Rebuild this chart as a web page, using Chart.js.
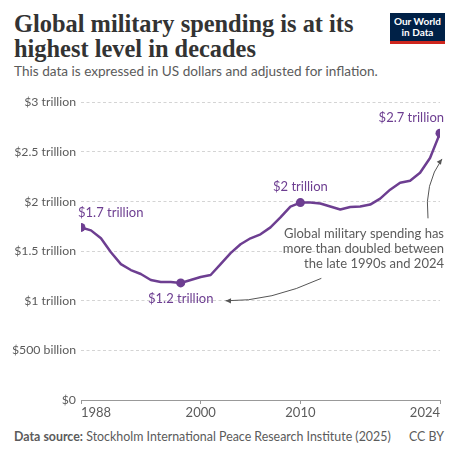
<!DOCTYPE html>
<html>
<head>
<meta charset="utf-8">
<script src="https://cdn.jsdelivr.net/npm/chart.js@4/dist/chart.umd.min.js"></script>
<style>
  html, body { margin: 0; padding: 0; background: #fff; }
  body { width: 460px; height: 460px; position: relative; overflow: hidden; font-family: Lato, sans-serif; }
  #title { position: absolute; left: 14px; top: 11px; width: 370px; font-family: "Liberation Serif", serif; font-weight: bold; font-size: 24.4px; line-height: 25px; color: #333; }
  #subtitle { position: absolute; left: 14px; top: 63px; font-size: 13.6px; color: #5b5b5b; }
  #logo { position: absolute; left: 390px; top: 13px; width: 55px; height: 25px; background: #002147; border-bottom: 3px solid #ce261e; color: #fff; font-size: 10px; font-weight: bold; line-height: 11px; text-align: center; padding-top: 3px; }
  #wrap { position: absolute; left: 0; top: 90px; width: 460px; height: 332px; }
  #footer { position: absolute; left: 14px; top: 429px; width: 430px; font-size: 12.4px; color: #5b5b5b; }
  #footer b { font-weight: bold; }
  #cc { position: absolute; right: 0; top: 0; }
</style>
</head>
<body>
<div id="title">Global military spending is at its highest level in decades</div>
<div id="subtitle">This data is expressed in US dollars and adjusted for inflation.</div>
<div id="logo">Our World<br>in Data</div>
<div id="wrap"><canvas id="chart"></canvas></div>
<div id="footer"><b>Data source:</b> Stockholm International Peace Research Institute (2025)<span id="cc">CC BY</span></div>
<script>
// World military expenditure, constant US$ (trillions)
const years = [1988, 1989, 1990, 1991, 1992, 1993, 1994, 1995, 1996, 1997, 1998, 1999,
  2000, 2001, 2002, 2003, 2004, 2005, 2006, 2007, 2008, 2009, 2010, 2011,
  2012, 2013, 2014, 2015, 2016, 2017, 2018, 2019, 2020, 2021, 2022, 2023, 2024];
const spending = [1.74, 1.71, 1.63, 1.49, 1.37, 1.31, 1.27, 1.21, 1.19, 1.19, 1.18, 1.21,
  1.24, 1.26, 1.37, 1.48, 1.57, 1.63, 1.67, 1.74, 1.84, 1.95, 1.99, 1.99,
  1.98, 1.95, 1.92, 1.945, 1.95, 1.97, 2.03, 2.12, 2.19, 2.21, 2.29, 2.44, 2.69];
const xTicks = [1988, 2000, 2010, 2024];
const yTicks = [0, 0.5, 1, 1.5, 2, 2.5, 3];
const yTickLabels = ['$0', '$500 billion', '$1 trillion', '$1.5 trillion', '$2 trillion', '$2.5 trillion', '$3 trillion'];
const highlightYears = [1988, 1998, 2010, 2024];
const highlightLabels = ['$1.7 trillion', '$1.2 trillion', '$2 trillion', '$2.7 trillion'];
const noteLines = ['Global military spending has', 'more than doubled between', 'the late 1990s and 2024'];

const purple = '#6d3e91';
const textGray = '#5b5b5b';

const points = years.map((y, i) => ({ x: y, y: spending[i] }));
const radii = years.map(y => highlightYears.includes(y) ? 4.5 : 0);

function arrowHead(ctx, x, y, angle) {
  const s = 6;
  ctx.beginPath();
  ctx.moveTo(x, y);
  ctx.lineTo(x - s * Math.cos(angle - 0.45), y - s * Math.sin(angle - 0.45));
  ctx.lineTo(x - s * Math.cos(angle + 0.45), y - s * Math.sin(angle + 0.45));
  ctx.closePath();
  ctx.fill();
}

const annotations = {
  id: 'annotations',
  afterDatasetsDraw(chart) {
    const ctx = chart.ctx;
    const xs = chart.scales.x, ys = chart.scales.y;
    const area = chart.chartArea;
    ctx.save();
    ctx.font = '13px Lato';
    ctx.fillStyle = purple;
    ctx.textBaseline = 'middle';
    highlightYears.forEach((yr, k) => {
      const v = spending[years.indexOf(yr)];
      const px = xs.getPixelForValue(yr), py = ys.getPixelForValue(v);
      if (k === 0) { ctx.textAlign = 'left'; ctx.fillText(highlightLabels[k], px - 3, py - 15); }
      else if (k === 1) { ctx.textAlign = 'center'; ctx.fillText(highlightLabels[k], px, py + 16); }
      else if (k === 2) { ctx.textAlign = 'center'; ctx.fillText(highlightLabels[k], px, py - 16); }
      else { ctx.textAlign = 'right'; ctx.fillText(highlightLabels[k], area.right + 4, py - 15); }
    });

    // note text
    ctx.fillStyle = textGray;
    ctx.textAlign = 'right';
    const noteTop = ys.getPixelForValue(1.68);
    noteLines.forEach((l, i) => ctx.fillText(l, area.right + 4, noteTop + i * 15));

    // arrows
    ctx.strokeStyle = '#555';
    ctx.fillStyle = '#555';
    ctx.lineWidth = 1;
    const r = area.right;
    const a1s = { x: r - 12, y: noteTop - 15 };
    const a1e = { x: r + 2, y: ys.getPixelForValue(2.43) };
    const c1 = { x: r - 16, y: a1e.y + 25 };
    ctx.beginPath();
    ctx.moveTo(a1s.x, a1s.y);
    ctx.quadraticCurveTo(c1.x, c1.y, a1e.x, a1e.y);
    ctx.stroke();
    arrowHead(ctx, a1e.x, a1e.y, Math.atan2(a1e.y - c1.y, a1e.x - c1.x));

    const a2s = { x: xs.getPixelForValue(2012.1), y: noteTop + 2 * 15 + 15 };
    const a2e = { x: xs.getPixelForValue(2002.5), y: ys.getPixelForValue(1.0) };
    const c2 = { x: xs.getPixelForValue(2007), y: a2e.y + 1 };
    ctx.beginPath();
    ctx.moveTo(a2s.x, a2s.y);
    ctx.quadraticCurveTo(c2.x, c2.y, a2e.x, a2e.y);
    ctx.stroke();
    arrowHead(ctx, a2e.x, a2e.y, Math.atan2(a2e.y - c2.y, a2e.x - c2.x));
    ctx.restore();
  }
};

new Chart(document.getElementById('chart'), {
  type: 'line',
  data: {
    datasets: [{
      data: points,
      borderColor: purple,
      backgroundColor: purple,
      borderWidth: 2.5,
      pointRadius: radii,
      pointHoverRadius: radii,
      pointBorderWidth: 0,
      tension: 0,
      borderJoinStyle: 'round',
      fill: false
    }]
  },
  options: {
    responsive: true,
    maintainAspectRatio: false,
    animation: false,
    layout: { padding: { top: 11, right: 20, left: 0, bottom: 0 } },
    plugins: { legend: { display: false }, tooltip: { enabled: false } },
    scales: {
      x: {
        type: 'linear',
        min: 1988,
        max: 2024,
        afterBuildTicks: s => { s.ticks = xTicks.map(v => ({ value: v })); },
        afterFit: s => { s.height = 22; },
        ticks: {
          align: 'inner',
          padding: 1,
          maxRotation: 0,
          autoSkip: false,
          color: textGray,
          font: { family: 'Lato', size: 13 },
          callback: v => String(v)
        },
        grid: { drawOnChartArea: false, drawTicks: true, tickLength: 4, color: '#999' },
        border: { display: true, color: '#999', width: 1 }
      },
      y: {
        min: 0,
        max: 3,
        afterBuildTicks: s => { s.ticks = yTicks.map(v => ({ value: v })); },
        afterFit: s => { s.width = 81; },
        ticks: {
          padding: 5,
          color: textGray,
          font: { family: 'Lato', size: 12.3 },
          callback: v => yTickLabels[yTicks.indexOf(v)]
        },
        grid: { color: '#d4d4d4', drawTicks: false },
        border: { display: false, dash: [3, 2.5] }
      }
    }
  },
  plugins: [annotations]
});
</script>
</body>
</html>
